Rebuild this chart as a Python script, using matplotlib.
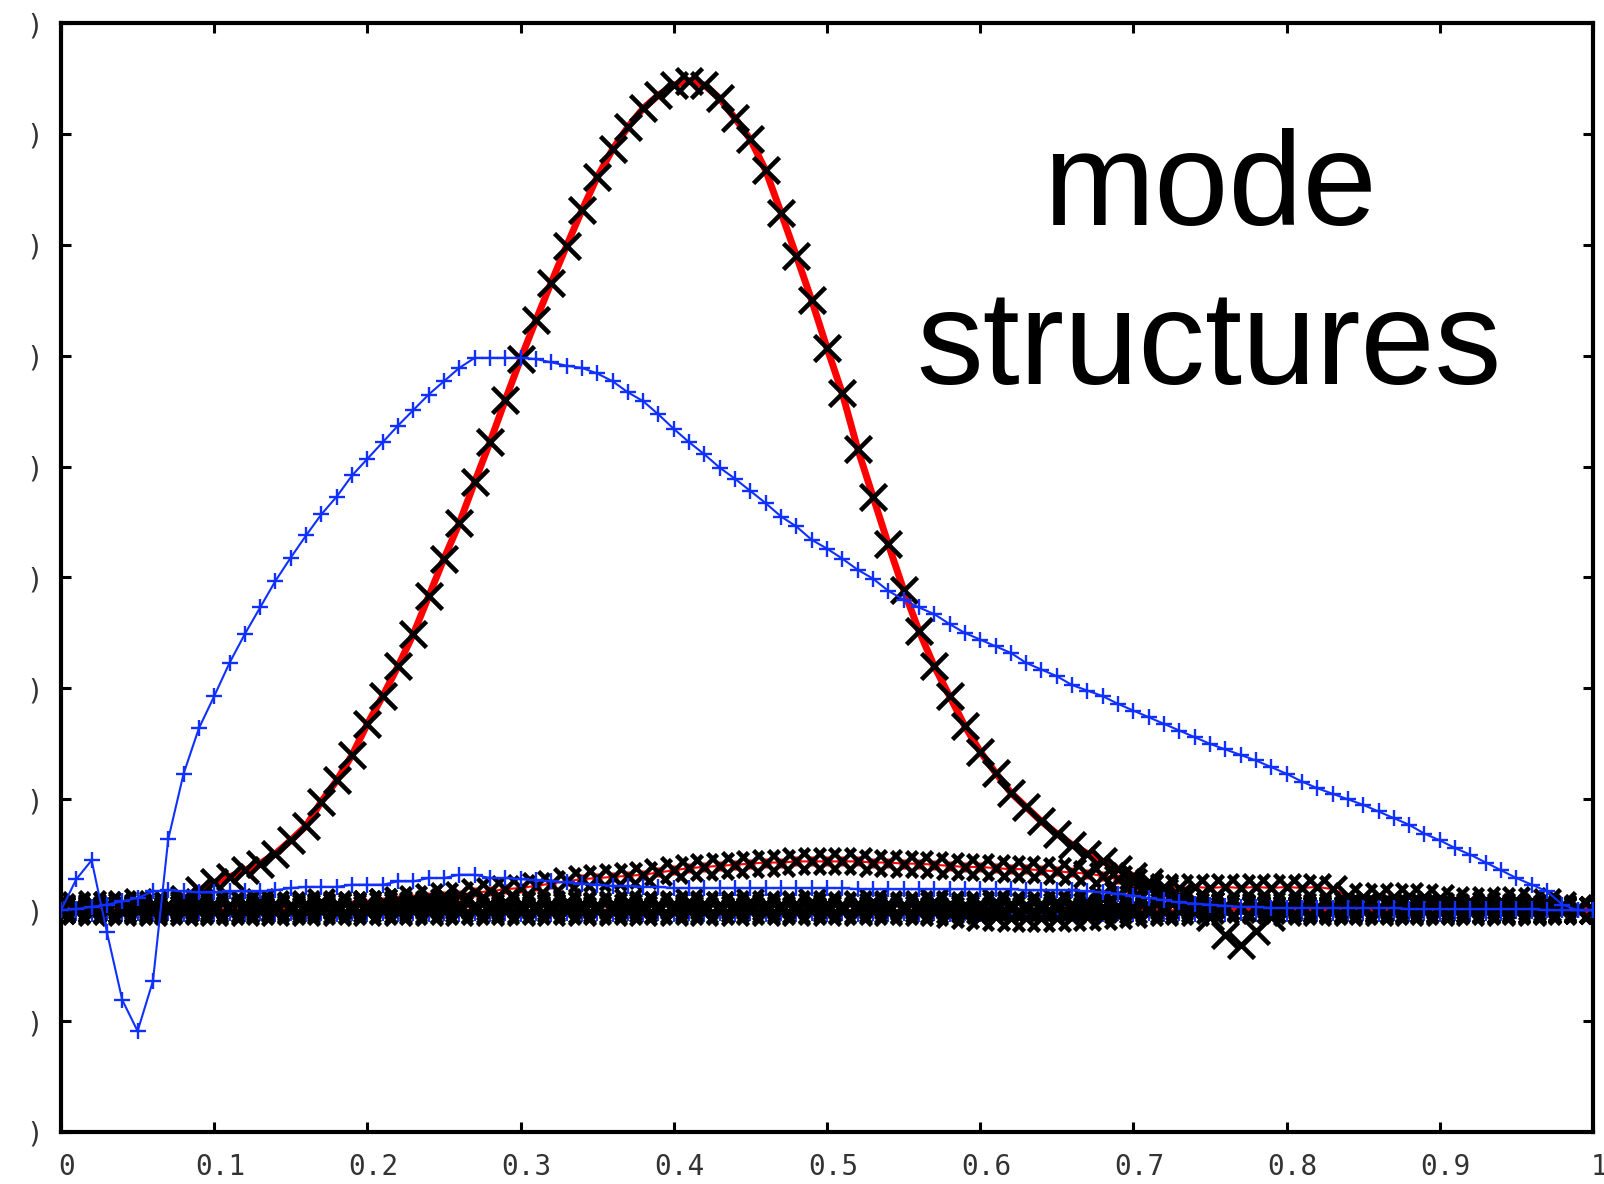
import numpy as np
import matplotlib
matplotlib.use("Agg")
import matplotlib.pyplot as plt
from matplotlib.transforms import ScaledTranslation

# ---------------- data ----------------
x = np.arange(101) / 100.0  # radial grid 0.00 .. 1.00

main_y = [
    0.00, 0.00, 0.00, 0.00, 0.01, 0.01, 0.02, 0.03, 0.10, 0.18,
    0.25, 0.30, 0.36, 0.42, 0.51, 0.63, 0.76, 0.98, 1.17, 1.40,
    1.68, 1.93, 2.20, 2.49, 2.83, 3.17, 3.49, 3.86, 4.22, 4.60,
    4.97, 5.32, 5.66, 5.99, 6.31, 6.61, 6.86, 7.06, 7.23, 7.35,
    7.44, 7.48, 7.44, 7.32, 7.14, 6.95, 6.67, 6.29, 5.90, 5.50,
    5.07, 4.66, 4.16, 3.73, 3.30, 2.89, 2.52, 2.20, 1.93, 1.66,
    1.43, 1.24, 1.06, 0.93, 0.80, 0.69, 0.59, 0.51, 0.44, 0.37,
    0.31, 0.25, 0.19, 0.13, 0.08, 0.05, 0.03, 0.02, 0.01, 0.01,
    0.01, 0.01, 0.01, 0.00, 0.00, 0.00, 0.00, 0.00, 0.00, 0.00,
    0.00, 0.00, 0.00, 0.00, 0.00, 0.00, 0.00, 0.00, 0.00, 0.00,
    0.00]

bump_y = [
    0.00, 0.00, 0.01, 0.01, 0.01, 0.01, 0.01, 0.01, 0.01, 0.01,
    0.01, 0.01, 0.01, 0.02, 0.02, 0.02, 0.03, 0.03, 0.04, 0.05,
    0.06, 0.07, 0.09, 0.10, 0.12, 0.13, 0.14, 0.16, 0.17, 0.19,
    0.20, 0.22, 0.24, 0.26, 0.28, 0.29, 0.30, 0.31, 0.32, 0.34,
    0.36, 0.38, 0.39, 0.40, 0.41, 0.42, 0.43, 0.43, 0.44, 0.44,
    0.44, 0.44, 0.44, 0.43, 0.43, 0.42, 0.42, 0.41, 0.40, 0.39,
    0.39, 0.38, 0.37, 0.37, 0.36, 0.35, 0.34, 0.33, 0.31, 0.28,
    0.25, 0.21, 0.16, 0.12, 0.08, 0.05, 0.03, 0.02, 0.02, 0.01,
    0.01, 0.01, 0.01, 0.01, 0.01, 0.01, 0.01, 0.01, 0.01, 0.01,
    0.01, 0.01, 0.01, 0.01, 0.00, 0.00, 0.00, 0.00, 0.00, 0.00,
    0.00]

near_a = [
    0.00, 0.00, 0.01, 0.00, 0.00, 0.01, 0.00, 0.00, 0.01, 0.00,
    0.00, 0.01, 0.00, 0.00, 0.01, 0.00, 0.00, 0.01, 0.00, 0.00,
    0.01, 0.00, 0.00, 0.01, 0.00, 0.00, 0.01, 0.00, 0.00, 0.01,
    0.00, 0.00, 0.01, 0.00, 0.00, 0.01, 0.00, 0.00, 0.01, 0.00,
    0.00, 0.01, 0.00, 0.00, 0.01, 0.00, 0.00, 0.01, 0.00, 0.00,
    0.01, 0.00, 0.00, 0.01, 0.00, 0.00, 0.01, 0.00, 0.00, 0.01,
    0.00, 0.00, 0.01, 0.00, 0.00, 0.01, 0.00, 0.00, 0.01, 0.00,
    0.00, 0.01, 0.00, 0.00, 0.01, 0.00, 0.00, 0.01, 0.00, 0.00,
    0.01, 0.00, 0.00, 0.01, 0.00, 0.00, 0.01, 0.00, 0.00, 0.01,
    0.00, 0.00, 0.01, 0.00, 0.00, 0.01, 0.00, 0.00, 0.01, 0.00,
    0.00]

near_b = [
    0.02, 0.04, 0.03, 0.05, 0.04, 0.03, 0.04, 0.05, 0.04, 0.04,
    0.03, 0.04, 0.05, 0.04, 0.03, 0.04, 0.05, 0.04, 0.04, 0.03,
    0.04, 0.05, 0.04, 0.03, 0.04, 0.05, 0.04, 0.04, 0.03, 0.04,
    0.05, 0.04, 0.03, 0.04, 0.05, 0.04, 0.04, 0.03, 0.04, 0.05,
    0.04, 0.03, 0.04, 0.05, 0.04, 0.04, 0.03, 0.04, 0.05, 0.04,
    0.03, 0.04, 0.05, 0.04, 0.04, 0.03, 0.04, 0.05, 0.04, 0.03,
    0.04, 0.05, 0.04, 0.04, 0.03, 0.04, 0.05, 0.04, 0.03, 0.04,
    0.05, 0.04, 0.04, 0.03, 0.04, 0.05, 0.04, 0.03, 0.04, 0.05,
    0.04, 0.04, 0.03, 0.04, 0.05, 0.04, 0.03, 0.04, 0.05, 0.04,
    0.04, 0.03, 0.04, 0.05, 0.04, 0.03, 0.03, 0.02, 0.02, 0.01,
    0.00]

near_c = [
    0.00, -0.01, -0.02, -0.01, -0.02, -0.01, -0.02, -0.01, -0.02, -0.01,
    -0.02, -0.01, -0.02, -0.01, -0.02, -0.01, -0.02, -0.01, -0.02, -0.01,
    -0.02, -0.01, -0.02, -0.01, -0.02, -0.01, -0.02, -0.01, -0.02, -0.01,
    -0.02, -0.01, -0.02, -0.01, -0.02, -0.01, -0.02, -0.01, -0.02, -0.01,
    -0.02, -0.01, -0.02, -0.01, -0.02, -0.01, -0.02, -0.01, -0.02, -0.01,
    -0.02, -0.01, -0.02, -0.01, -0.02, -0.01, -0.02, -0.02, -0.03, -0.04,
    -0.06, -0.06, -0.07, -0.07, -0.07, -0.07, -0.06, -0.06, -0.05, -0.04,
    -0.03, -0.02, -0.02, -0.01, -0.02, -0.06, -0.22, -0.31, -0.19, -0.06,
    -0.02, -0.01, -0.02, -0.01, -0.02, -0.01, -0.02, -0.01, -0.02, -0.01,
    -0.02, -0.01, -0.02, -0.01, -0.02, -0.01, -0.02, -0.01, -0.01, 0.00,
    0.00]

near_d = [
    0.03, 0.05, 0.06, 0.05, 0.06, 0.07, 0.06, 0.05, 0.06, 0.07,
    0.06, 0.05, 0.06, 0.07, 0.06, 0.05, 0.06, 0.07, 0.06, 0.05,
    0.06, 0.07, 0.06, 0.05, 0.06, 0.07, 0.06, 0.05, 0.06, 0.07,
    0.06, 0.05, 0.06, 0.07, 0.06, 0.05, 0.06, 0.07, 0.06, 0.05,
    0.06, 0.07, 0.06, 0.05, 0.06, 0.07, 0.06, 0.05, 0.06, 0.07,
    0.06, 0.05, 0.06, 0.07, 0.06, 0.05, 0.06, 0.07, 0.06, 0.05,
    0.06, 0.07, 0.06, 0.05, 0.06, 0.07, 0.06, 0.08, 0.10, 0.14,
    0.18, 0.20, 0.21, 0.20, 0.21, 0.20, 0.21, 0.20, 0.21, 0.20,
    0.21, 0.20, 0.21, 0.19, 0.13, 0.12, 0.13, 0.12, 0.13, 0.12,
    0.11, 0.09, 0.08, 0.09, 0.08, 0.09, 0.08, 0.07, 0.05, 0.02,
    0.00]

blue_big = [
    0.00, 0.28, 0.45, -0.20, -0.81, -1.09, -0.64, 0.64, 1.23, 1.64,
    1.93, 2.23, 2.49, 2.73, 2.97, 3.18, 3.38, 3.57, 3.73, 3.92,
    4.07, 4.22, 4.37, 4.51, 4.65, 4.77, 4.89, 4.98, 4.98, 4.98,
    4.98, 4.97, 4.94, 4.91, 4.89, 4.84, 4.77, 4.67, 4.59, 4.47,
    4.34, 4.22, 4.11, 3.99, 3.89, 3.78, 3.67, 3.55, 3.46, 3.34,
    3.26, 3.17, 3.07, 2.99, 2.88, 2.80, 2.73, 2.67, 2.58, 2.50,
    2.44, 2.38, 2.32, 2.23, 2.17, 2.11, 2.03, 1.98, 1.93, 1.86,
    1.80, 1.74, 1.68, 1.62, 1.56, 1.50, 1.45, 1.40, 1.35, 1.29,
    1.23, 1.16, 1.10, 1.05, 1.00, 0.95, 0.89, 0.83, 0.77, 0.69,
    0.63, 0.56, 0.50, 0.43, 0.36, 0.29, 0.23, 0.17, 0.05, 0.00,
    0.00]

blue_small = [
    0.00, 0.01, 0.03, 0.05, 0.08, 0.11, 0.17, 0.18, 0.17, 0.16,
    0.16, 0.17, 0.17, 0.17, 0.18, 0.20, 0.21, 0.21, 0.21, 0.23,
    0.23, 0.23, 0.26, 0.26, 0.29, 0.29, 0.32, 0.32, 0.29, 0.29,
    0.28, 0.27, 0.26, 0.25, 0.24, 0.23, 0.22, 0.22, 0.21, 0.21,
    0.20, 0.20, 0.20, 0.20, 0.20, 0.20, 0.20, 0.20, 0.20, 0.20,
    0.20, 0.20, 0.19, 0.19, 0.19, 0.19, 0.19, 0.19, 0.19, 0.19,
    0.19, 0.19, 0.19, 0.18, 0.18, 0.18, 0.18, 0.17, 0.16, 0.15,
    0.13, 0.11, 0.09, 0.07, 0.06, 0.05, 0.04, 0.03, 0.03, 0.02,
    0.02, 0.02, 0.02, 0.02, 0.02, 0.02, 0.02, 0.02, 0.01, 0.01,
    0.01, 0.01, 0.01, 0.01, 0.01, 0.01, 0.01, 0.00, 0.00, 0.00,
    0.00]

blue_zero = [
    0.00, -0.03, -0.04, -0.03, -0.04, -0.03, -0.04, -0.03, -0.04, -0.03,
    -0.04, -0.03, -0.04, -0.03, -0.04, -0.03, -0.04, -0.03, -0.04, -0.03,
    -0.04, -0.03, -0.04, -0.03, -0.04, -0.03, -0.04, -0.03, -0.04, -0.03,
    -0.04, -0.03, -0.04, -0.03, -0.04, -0.03, -0.04, -0.03, -0.04, -0.03,
    -0.04, -0.03, -0.04, -0.03, -0.04, -0.03, -0.04, -0.03, -0.04, -0.03,
    -0.04, -0.03, -0.04, -0.03, -0.04, -0.03, -0.04, -0.03, -0.04, -0.03,
    -0.04, -0.03, -0.04, -0.03, -0.04, -0.03, -0.04, -0.03, -0.04, -0.03,
    -0.04, -0.03, -0.04, -0.03, -0.04, -0.03, -0.04, -0.03, -0.04, -0.03,
    -0.04, -0.03, -0.04, -0.03, -0.04, -0.03, -0.04, -0.03, -0.04, -0.03,
    -0.04, -0.03, -0.04, -0.03, -0.03, -0.02, -0.02, -0.01, -0.01, 0.00,
    0.00]

xticks = [0.0, 0.1, 0.2, 0.3, 0.4, 0.5, 0.6, 0.7, 0.8, 0.9, 1.0]
xtick_labels = ["0", "0.1", "0.2", "0.3", "0.4", "0.5", "0.6", "0.7", "0.8", "0.9", "1"]
yticks = [-2, -1, 0, 1, 2, 3, 4, 5, 6, 7, 8]
ytick_labels = [")"] * len(yticks)
title_lines = ["mode", "structures"]

# ---------------- figure ----------------
W, H = 1604, 1184
fig = plt.figure(figsize=(W / 100, H / 100), dpi=100)
ax = fig.add_axes([61 / W, 1 - 1132 / H, (1593 - 61) / W, (1132 - 23) / H])

blue = "#1030ff"
red = "#ff0000"

# near-zero blue harmonic (mostly hidden)
ax.plot(x, blue_zero, color=blue, lw=1.2, marker="+", ms=10, mew=1.5, zorder=2)

# red lines (simulation)
for ys in (near_a, near_c, near_d):
    ax.plot(x, ys, color=red, lw=1.5, marker="+", ms=5, mew=1.5, zorder=3)
ax.plot(x, bump_y, color=red, lw=1.5, marker="+", ms=7, mew=2.2, zorder=3)
ax.plot(x, main_y, color=red, lw=5, zorder=3)

# black x markers
for ys in (near_a, near_b, near_c, near_d, bump_y, main_y):
    ax.plot(x, ys, ls="none", marker="x", ms=19, mew=3.3, color="black", zorder=4)

# blue curves with + markers
ax.plot(x, blue_small, color=blue, lw=1.5, marker="+", ms=11, mew=1.7, zorder=5)
ax.plot(x, blue_big, color=blue, lw=1.5, marker="+", ms=11, mew=1.7, zorder=5)

ax.set_xlim(0, 1)
ax.set_ylim(-2, 8)
ax.set_xticks(xticks)
ax.set_xticklabels(xtick_labels)
ax.set_yticks(yticks)
ax.set_yticklabels(ytick_labels)

for s in ax.spines.values():
    s.set_linewidth(3)
ax.tick_params(direction="in", length=7, width=2.2, top=True, right=True,
               labelsize=20, labelcolor="#333333")
ax.tick_params(axis="x", pad=15)
ax.tick_params(axis="y", pad=13)
for lab in ax.get_xticklabels() + ax.get_yticklabels():
    lab.set_fontfamily("DejaVu Sans Mono")
off = ScaledTranslation(6 / 100, 0, fig.dpi_scale_trans)
for lab in ax.get_xticklabels():
    lab.set_transform(lab.get_transform() + off)

fig.text(1210 / W, 1 - 225 / H, title_lines[0], ha="center", va="baseline",
         fontsize=96, family="Liberation Sans", color="black")
fig.text(1209 / W, 1 - 384 / H, title_lines[1], ha="center", va="baseline",
         fontsize=96, family="Liberation Sans", color="black")

fig.savefig("out.png", dpi=100)
